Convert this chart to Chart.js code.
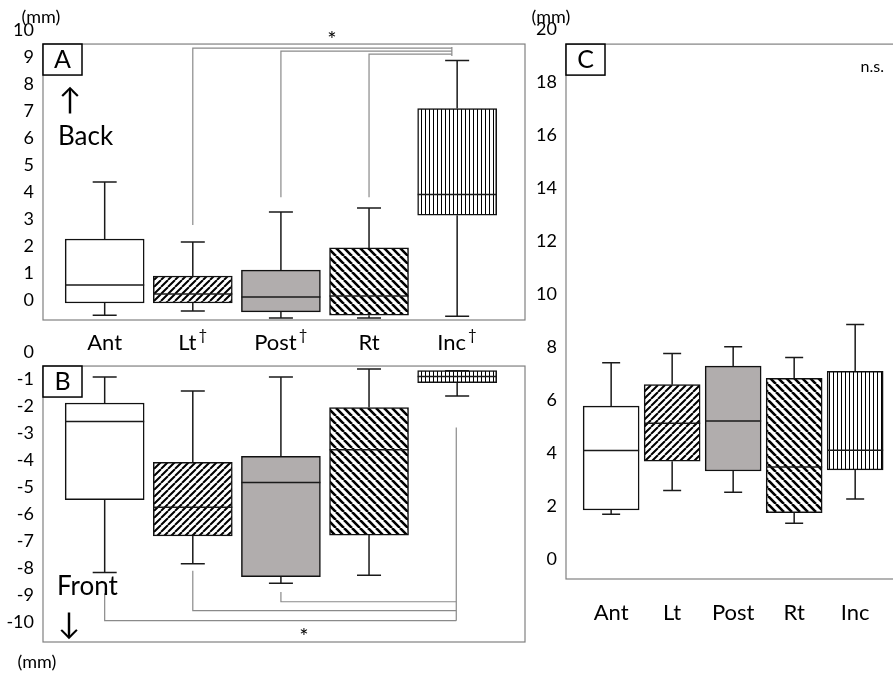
<!DOCTYPE html>
<html>
<head>
<meta charset="utf-8">
<script src="https://cdn.jsdelivr.net/npm/chart.js@4/dist/chart.umd.min.js"></script>
<style>
  html, body { margin: 0; padding: 0; background: #fff; }
  #wrap { position: relative; width: 893px; height: 678px; }
  canvas { position: absolute; left: 0; top: 0; }
</style>
</head>
<body>
<div id="wrap">
  <canvas id="chartA" width="893" height="678"></canvas>
  <canvas id="chartB" width="893" height="678"></canvas>
  <canvas id="chartC" width="893" height="678"></canvas>
</div>
<script>
const categories = ['Ant', 'Lt', 'Post', 'Rt', 'Inc'];
const daggers = [false, true, true, false, true];

// A: backward displacement (mm)
const minA = [-0.56, -0.41, -0.67, -0.67, -0.60];
const q1A  = [-0.11, -0.11, -0.44, -0.56, 3.14];
const medA = [0.56, 0.22, 0.11, 0.15, 3.91];
const q3A  = [2.26, 0.89, 1.11, 1.93, 7.09];
const maxA = [4.37, 2.15, 3.26, 3.41, 8.87];
const ticksA = [0, 1, 2, 3, 4, 5, 6, 7, 8, 9, 10];

// B: forward displacement (mm)
const minB = [-8.17, -7.84, -8.56, -8.27, -1.63];
const q1B  = [-5.47, -6.81, -8.32, -6.78, -1.14];
const medB = [-2.57, -5.75, -4.83, -3.62, -0.91];
const q3B  = [-1.89, -4.09, -3.86, -2.06, -0.69];
const maxB = [-0.93, -1.44, -0.93, -0.63, -0.69];
const ticksB = [-10, -9, -8, -7, -6, -5, -4, -3, -2, -1, 0];

// C (mm)
const minC = [1.69, 2.58, 2.52, 1.35, 2.26];
const q1C  = [1.85, 3.69, 3.32, 1.75, 3.36];
const medC = [4.09, 5.12, 5.21, 3.47, 4.10];
const q3C  = [5.77, 6.58, 7.28, 6.82, 7.08];
const maxC = [7.41, 7.75, 8.01, 7.60, 8.85];
const ticksC = [0, 2, 4, 6, 8, 10, 12, 14, 16, 18, 20];

const FONT = 'Lato, "Open Sans", sans-serif';

function hatch(kind) {
    if (kind === 'white') return '#ffffff';
    if (kind === 'gray') return '#b1adad';
    const t = document.createElement('canvas');
    const s = kind === 'vert' ? 4 : (kind === 'slash' ? 7 : 8);
    t.width = s; t.height = s;
    const g = t.getContext('2d');
    g.fillStyle = '#fff';
    g.fillRect(0, 0, s, s);
    g.strokeStyle = '#000';
    g.beginPath();
    if (kind === 'vert') {
        g.lineWidth = 1;
        g.moveTo(1.5, 0); g.lineTo(1.5, s);
    } else if (kind === 'slash') {
        g.lineWidth = 2;
        for (const o of [-s, 0, s]) { g.moveTo(o, s); g.lineTo(o + s, 0); }
    } else {
        g.lineWidth = 2.6;
        for (const o of [-s, 0, s]) { g.moveTo(o, 0); g.lineTo(o + s, s); }
    }
    g.stroke();
    return g.createPattern(t, 'repeat');
}
const fills = ['white', 'slash', 'gray', 'back', 'vert'].map(hatch);

function whiskerPlugin(mins, meds, maxs, q1, q3, capW) {
    return {
        id: 'whiskers',
        afterDatasetsDraw(chart) {
            const ctx = chart.ctx, y = chart.scales.y;
            const bars = chart.getDatasetMeta(0).data;
            ctx.save();
            ctx.strokeStyle = '#1a1a1a';
            ctx.lineWidth = 1.5;
            bars.forEach((bar, i) => {
                const x = bar.x, hw = bar.width / 2;
                const yMax = y.getPixelForValue(maxs[i]), yMin = y.getPixelForValue(mins[i]);
                const yQ3 = y.getPixelForValue(q3[i]), yQ1 = y.getPixelForValue(q1[i]);
                const yMed = y.getPixelForValue(meds[i]);
                ctx.beginPath();
                ctx.moveTo(x, yQ3); ctx.lineTo(x, yMax);
                ctx.moveTo(x - capW / 2, yMax); ctx.lineTo(x + capW / 2, yMax);
                ctx.moveTo(x, yQ1); ctx.lineTo(x, yMin);
                ctx.moveTo(x - capW / 2, yMin); ctx.lineTo(x + capW / 2, yMin);
                ctx.moveTo(x - hw, yMed); ctx.lineTo(x + hw, yMed);
                ctx.stroke();
            });
            ctx.restore();
        }
    };
}

// helpers for the decorations
function frame(ctx, l, t, r, b) {
    ctx.save();
    ctx.strokeStyle = '#808080';
    ctx.lineWidth = 1.2;
    ctx.strokeRect(l, t, r - l, b - t);
    ctx.restore();
}
function labelBox(ctx, s, l, t) {
    ctx.save();
    ctx.fillStyle = '#fff';
    ctx.fillRect(l, t, 39, 31);
    ctx.strokeStyle = '#000';
    ctx.lineWidth = 1.5;
    ctx.strokeRect(l, t, 39, 31);
    ctx.fillStyle = '#000';
    ctx.font = '25px ' + FONT;
    ctx.textAlign = 'center';
    ctx.textBaseline = 'middle';
    ctx.fillText(s, l + 19.5, t + 16);
    ctx.restore();
}
function text(ctx, s, x, y, size, align) {
    ctx.save();
    ctx.fillStyle = '#000';
    ctx.font = size + 'px ' + FONT;
    ctx.textAlign = align || 'center';
    ctx.textBaseline = 'middle';
    ctx.fillText(s, x, y);
    ctx.restore();
}
function brackets(ctx, x, y, list) {
    ctx.save();
    ctx.strokeStyle = '#8a8a8a';
    ctx.lineWidth = 1.2;
    for (const pts of list) {
        ctx.beginPath();
        pts.forEach(([vx, vy], k) => {
            const px = x.getPixelForValue(vx), py = y.getPixelForValue(vy);
            if (k === 0) ctx.moveTo(px, py); else ctx.lineTo(px, py);
        });
        ctx.stroke();
    }
    ctx.restore();
}

const bracketsA = [
    [[1, 2.78], [1, 9.33], [3.94, 9.33]],
    [[2, 3.81], [2, 9.22], [3.94, 9.22]],
    [[3, 3.81], [3, 9.11], [3.94, 9.11]],
    [[3.94, 9.37], [3.94, 9.04]]
];
const bracketsB = [
    [[3.99, -2.8], [3.99, -9.95]],
    [[2, -8.89], [2, -9.25], [3.99, -9.25]],
    [[1, -8.1], [1, -9.58], [3.99, -9.58]],
    [[0, -8.93], [0, -9.95], [3.99, -9.95]]
];

const decoA = {
    id: 'decoA',
    beforeDatasetsDraw(chart) {
        const {ctx, scales: {x, y}} = chart;
        frame(ctx, x.left, y.getPixelForValue(9.48), x.right, y.bottom);
    },
    afterDraw(chart) {
        const {ctx, scales: {x, y}, chartArea: a} = chart;
        brackets(ctx, x, y, bracketsA);
        labelBox(ctx, 'A', a.left, y.getPixelForValue(9.48));
        text(ctx, '*', x.getPixelForValue(2.58), y.getPixelForValue(9.65), 22);
        text(ctx, '\u2191', a.left + 27, y.getPixelForValue(7.4), 30);
        text(ctx, 'Back', a.left + 15, y.getPixelForValue(6.04), 26, 'left');
        text(ctx, '(mm)', a.left - 2, y.getPixelForValue(10.48), 18);
        // daggers after the tick labels
        ctx.save();
        ctx.font = '22px ' + FONT;
        categories.forEach((c, i) => {
            if (!daggers[i]) return;
            const wl = ctx.measureText(c).width;
            const wf = ctx.measureText(c + '\u2002').width;
            const dx = x.getPixelForValue(i) - wf / 2 + wl + 2;
            text(ctx, '\u2020', dx, x.top + 15, 15, 'left');
            ctx.font = '22px ' + FONT;
        });
        ctx.restore();
    }
};

const decoB = {
    id: 'decoB',
    beforeDatasetsDraw(chart) {
        const {ctx, scales: {x, y}} = chart;
        frame(ctx, x.left, y.getPixelForValue(-0.52), x.right, y.bottom);
    },
    afterDraw(chart) {
        const {ctx, scales: {x, y}, chartArea: a} = chart;
        brackets(ctx, x, y, bracketsB);
        labelBox(ctx, 'B', a.left, y.getPixelForValue(-0.52));
        text(ctx, '*', x.getPixelForValue(2.26), y.getPixelForValue(-10.55), 22);
        text(ctx, 'Front', a.left + 14, y.getPixelForValue(-8.7), 26, 'left');
        text(ctx, '\u2193', a.left + 26, y.getPixelForValue(-10.1), 30);
        text(ctx, '(mm)', a.left - 6, y.getPixelForValue(-11.5), 18);
    }
};

const decoC = {
    id: 'decoC',
    beforeDatasetsDraw(chart) {
        const {ctx, scales: {x, y}} = chart;
        frame(ctx, x.left, y.getPixelForValue(19.43), x.right + 10, y.bottom);
    },
    afterDraw(chart) {
        const {ctx, scales: {x, y}, chartArea: a} = chart;
        labelBox(ctx, 'C', a.left, y.getPixelForValue(19.43));
        text(ctx, 'n.s.', x.getPixelForValue(4.28), y.getPixelForValue(18.57), 16);
        text(ctx, '(mm)', a.left - 15, y.getPixelForValue(20.45), 18);
    }
};

function makeChart(id, cfg) {
    return new Chart(document.getElementById(id), {
        type: 'bar',
        data: {
            datasets: [{
                data: categories.map((c, i) => ({x: i, y: [cfg.q1[i], cfg.q3[i]]})),
                backgroundColor: fills,
                borderColor: '#111',
                borderWidth: 1.5,
                borderSkipped: false,
                barThickness: cfg.barW
            }]
        },
        options: {
            responsive: false,
            animation: false,
            devicePixelRatio: 1,
            layout: {padding: cfg.padding},
            plugins: {legend: {display: false}, tooltip: {enabled: false}},
            scales: {
                x: {
                    type: 'linear',
                    offset: false,
                    min: cfg.xMin,
                    max: cfg.xMax,
                    display: cfg.showX,
                    grid: {display: false, drawTicks: false},
                    border: {display: false},
                    afterBuildTicks: s => { s.ticks = categories.map((c, i) => ({value: i})); },
                    afterFit: s => { if (cfg.showX) s.height = cfg.xHeight; },
                    ticks: {
                        padding: cfg.xPad,
                        color: '#000',
                        maxRotation: 0,
                        autoSkip: false,
                        font: {family: FONT, size: 22},
                        callback: v => categories[v] + (cfg.useDaggers && daggers[v] ? '\u2002' : '')
                    }
                },
                y: {
                    min: cfg.yMin,
                    max: cfg.yMax,
                    beginAtZero: false,
                    grid: {display: false, drawTicks: false},
                    border: {display: false},
                    afterBuildTicks: s => { s.ticks = cfg.yTicks.map(v => ({value: v})); },
                    afterFit: s => { s.width = cfg.yWidth; },
                    ticks: {padding: 9, color: '#000', autoSkip: false, font: {family: FONT, size: 18}}
                }
            }
        },
        plugins: [whiskerPlugin(cfg.min, cfg.med, cfg.max, cfg.q1, cfg.q3, cfg.capW), cfg.deco]
    });
}

makeChart('chartA', {
    q1: q1A, q3: q3A, min: minA, med: medA, max: maxA, yTicks: ticksA,
    yMin: -0.74, yMax: 10, xMin: -0.7, xMax: 4.77, barW: 79, capW: 24,
    padding: {left: 0, right: 368, top: 30, bottom: 308}, yWidth: 43,
    showX: true, xHeight: 50, xPad: 10, useDaggers: true, deco: decoA
});
makeChart('chartB', {
    q1: q1B, q3: q3B, min: minB, med: medB, max: maxB, yTicks: ticksB,
    yMin: -10.74, yMax: 0, xMin: -0.7, xMax: 4.77, barW: 79, capW: 24,
    padding: {left: 0, right: 368, top: 352, bottom: 36}, yWidth: 43,
    showX: false, xHeight: 0, xPad: 10, useDaggers: false, deco: decoB
});
makeChart('chartC', {
    q1: q1C, q3: q3C, min: minC, med: medC, max: maxC, yTicks: ticksC,
    yMin: -0.755, yMax: 20, xMin: -0.74, xMax: 4.62, barW: 56, capW: 18,
    padding: {left: 516, right: 0, top: 29, bottom: 39}, yWidth: 50,
    showX: true, xHeight: 60, xPad: 21, useDaggers: false, deco: decoC
});
</script>
</body>
</html>
